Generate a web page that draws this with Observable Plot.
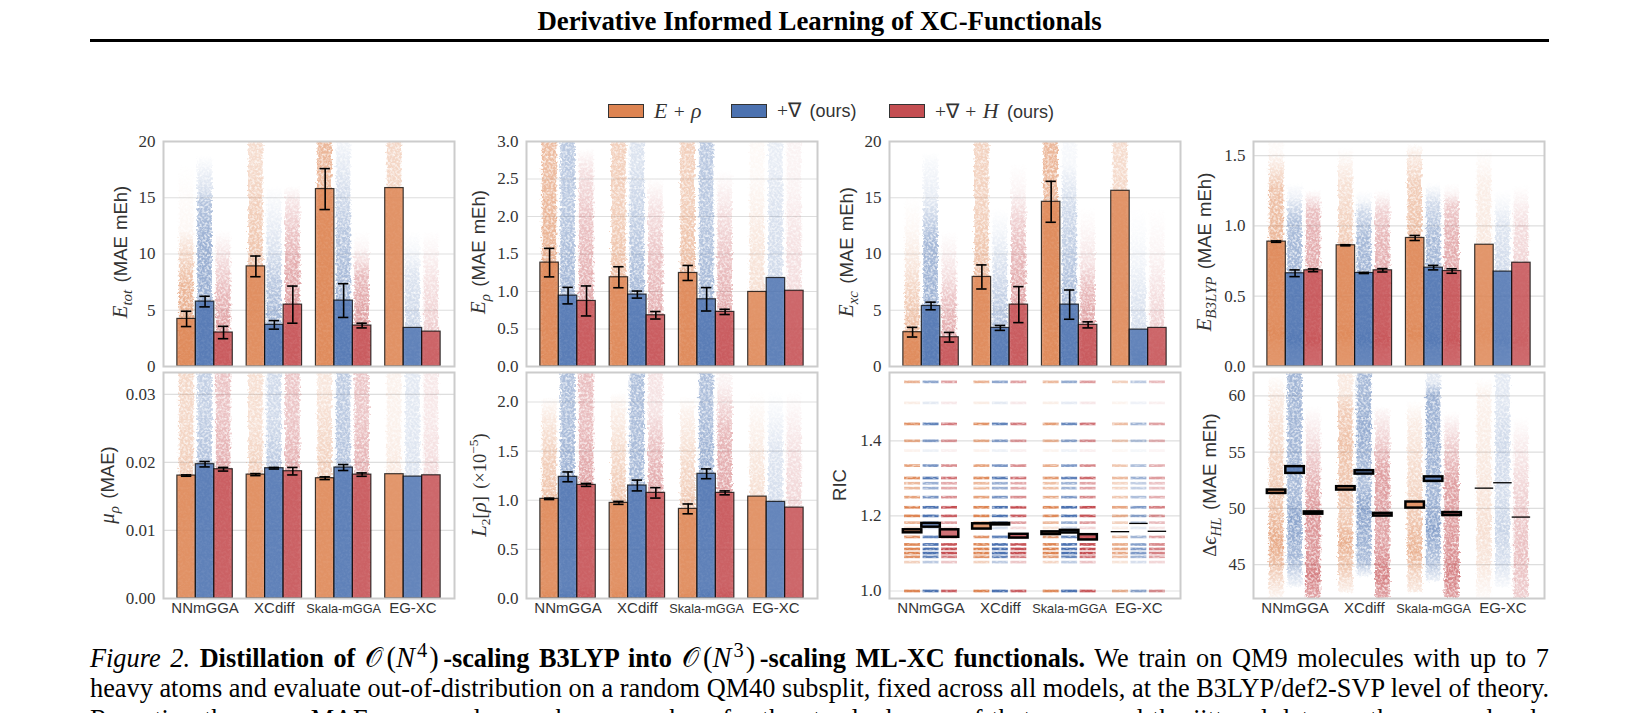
<!DOCTYPE html>
<html><head><meta charset="utf-8">
<script src="https://cdn.jsdelivr.net/npm/d3@7"></script>
<script src="https://cdn.jsdelivr.net/npm/@observablehq/plot@0.6"></script>
<style>
html,body{margin:0;padding:0;background:#fff;width:1639px;height:713px;overflow:hidden}
#page{position:relative;width:1639px;height:713px;overflow:hidden;font-family:"Liberation Serif",serif;color:#000}
#page svg{position:absolute;overflow:visible}
.abs{position:absolute;white-space:nowrap}
.ylab{position:absolute;white-space:nowrap;transform:translate(-50%,-50%) rotate(-90deg);font-family:"Liberation Sans",sans-serif;font-size:18.5px;color:#333;line-height:1;word-spacing:1px}
.ylab i,.leg i{font-family:"Liberation Serif",serif;font-size:1.12em}
.ylab .par{margin-left:.4em}
.ylab sub{font-size:.72em;line-height:0}
.ylab sup{font-size:.72em;line-height:0}
.ser{font-family:"Liberation Serif",serif}
.swatch{position:absolute;height:14px;width:36px;top:104px;box-sizing:border-box;border:1.2px solid #333}
.leg{position:absolute;top:100px;font-size:19.5px;line-height:22px;white-space:nowrap;color:#333;font-family:"Liberation Serif",serif;word-spacing:1.5px}
.leg .sans{font-family:"Liberation Sans",sans-serif;font-size:18px;margin-left:.12em}
.cap{position:absolute;left:90px;width:1459px;font-size:26.3px;line-height:30px;text-align:justify;text-align-last:justify;white-space:normal}
.cap sup{font-size:.72em;line-height:0;padding:0 .1em}
.cap .cal{font-family:"DejaVu Serif";font-size:1.02em;padding-right:.06em}
.cap .m{padding:0 .16em 0 .1em;font-size:1.08em}
</style></head>
<body><div id="page">
<svg width="0" height="0" style="position:absolute"><defs id="defs">
<filter id="speckle" x="-5%" y="-5%" width="110%" height="110%" color-interpolation-filters="sRGB">
 <feTurbulence type="fractalNoise" baseFrequency="0.42" numOctaves="2" seed="7" result="n"/>
 <feColorMatrix in="n" type="matrix" values="0 0 0 0 1  0 0 0 0 1  0 0 0 0 1  1.9 0 0 0 -.15" result="mask"/>
 <feDisplacementMap in="SourceGraphic" in2="n" scale="6" xChannelSelector="G" yChannelSelector="B" result="d"/>
 <feComposite in="d" in2="mask" operator="arithmetic" k1="1" result="s"/>
 <feGaussianBlur in="s" stdDeviation=".75"/>
</filter>
<filter id="speckleLine" x="-5%" y="-5%" width="110%" height="110%" color-interpolation-filters="sRGB">
 <feTurbulence type="fractalNoise" baseFrequency="0.3 0.9" numOctaves="1" seed="3" result="n"/>
 <feColorMatrix in="n" type="matrix" values="0 0 0 0 1  0 0 0 0 1  0 0 0 0 1  2 0 0 0 0" result="mask"/>
 <feComposite in="SourceGraphic" in2="mask" operator="arithmetic" k1="1" result="s"/>
 <feGaussianBlur in="s" stdDeviation=".4"/>
</filter>
</defs></svg>
</div>
<script>
const groups = ["NNmGGA", "XCdiff", "Skala-mGGA", "EG-XC"];
const series = ["E+rho", "+grad", "+grad+H"];
const seriesColors = ["#DD8452", "#4C72B0", "#C44E52"];

// means: one row per group, [orange, blue, red]; sem: half-width of the error bar (EG-XC has one seed)
const meanEtot = [[4.23, 5.77, 3.02], [8.9, 3.70, 5.50], [15.77, 5.86, 3.64], [15.86, 3.43, 3.1]];
const semEtot  = [[.68, .47, .55], [.92, .38, 1.65], [1.82, 1.5, .21], [0, 0, 0]];
const meanErho = [[1.385, .945, .874], [1.19, .959, .683], [1.247, .896, .728], [.994, 1.18, 1.01]];
const semErho  = [[.19, .11, .2], [.14, .047, .05], [.1, .156, .035], [0, 0, 0]];
const meanExc  = [[3.05, 5.38, 2.6], [7.96, 3.43, 5.5], [14.64, 5.5, 3.7], [15.62, 3.28, 3.43]];
const semExc   = [[.43, .34, .43], [1.07, .22, 1.6], [1.82, 1.3, .27], [0, 0, 0]];
const meanB3   = [[.888, .663, .684], [.862, .665, .684], [.914, .703, .679], [.866, .675, .738]];
const semB3    = [[.005, .024, .01], [.004, .004, .012], [.018, .016, .016], [0, 0, 0]];
const meanMu   = [[.01806, .01973, .01899], [.0182, .01914, .0187], [.01767, .01924, .0182], [.01826, .01791, .0181]];
const semMu    = [[.0001, .0004, .00027], [.00015, .00012, .00055], [.0002, .00044, .00025], [0, 0, 0]];
const meanL2   = [[1.014, 1.238, 1.156], [.973, 1.15, 1.075], [.912, 1.269, 1.075], [1.037, .983, .925]];
const semL2    = [[.007, .05, .015], [.015, .055, .053], [.05, .05, .02], [0, 0, 0]];
const meanRic  = [[1.159, 1.175, 1.153], [1.172, 1.178, 1.146], [1.154, 1.158, 1.143], [1.158, 1.18, 1.159]];
const semRic   = [[.004, .005, .01], [.007, .002, .005], [.0035, .0035, .007], [0, 0, 0]];
const meanHL   = [[51.48, 53.41, 49.59], [51.78, 53.2, 49.44], [50.3, 52.6, 49.5], [51.8, 52.28, 49.23]];
const semHL    = [[.15, .3, .1], [.15, .15, .12], [.27, .2, .13], [0, 0, 0]];

const cloudEtot = [
 [0,.5,4,.5,7,.45,9,.3,11,.15,12,.05,18],[0,.45,5,.45,11,.42,14.5,.33,15.5,.18,18.7],[0,.45,3,.42,6.5,.3,9,.17,10.5,.08,12],
 [0,.4,9,.38,14,.3,18,.22,20],[0,.45,4,.4,8,.28,10,.17,13,.08,16],[0,.45,5,.42,9,.35,12,.25,14.5,.12,16],
 [0,.5,15,.45,18,.45,21],[0,.45,6,.4,12,.3,16.5,.15,20,.05,21],[0,.45,4,.42,8,.3,9.5,.13,10.5,.04,12],
 [0,.3,15,.25,20],[0,.3,4,.22,8,.15,10,.05,12],[0,.3,4,.2,8,.12,10,.05,12]];
const cloudErho = [
 [0,.5,1,.5,2.5,.42,3.1],[0,.45,1,.4,2,.3,3.1],[0,.45,1,.35,2,.25,2.6,.13,2.9],
 [0,.5,1,.42,2,.3,3.1],[0,.45,1,.38,2,.25,2.7,.15,3.1],[0,.45,.7,.35,1.5,.25,2.1,.13,2.5],
 [0,.5,1.2,.42,2.2,.3,3.1],[0,.45,1,.38,2,.3,3.1],[0,.45,.8,.35,1.5,.25,2.1,.12,2.6],
 [0,.3,1,.2,1.7,.14,2.5,.04,3.1],[0,.3,1.2,.2,2,.16,2.7,.1,3.1],[0,.3,1,.15,1.7,.12,2.4,.05,3]];
const cloudExc = [
 [0,.5,3,.42,6,.3,9,.15,12,.05,15],[0,.45,5,.42,11,.38,15,.1,18,.04,19],[0,.45,2.6,.38,6,.25,8,.14,10.3,.05,12],
 [0,.45,8,.4,14,.28,20.5],[0,.45,3.4,.35,7,.22,10,.12,12,.05,14],[0,.45,5,.4,10,.3,13,.2,15.5,.05,18],
 [0,.5,14,.45,20.5],[0,.45,5,.38,10,.28,14,.2,18,.04,20],[0,.45,3.7,.4,7,.28,9,.13,12,.04,14],
 [0,.3,15,.25,18,.22,20.5],[0,.3,3.3,.18,6,.14,9,.06,12,.02,14],[0,.3,3.4,.2,6.5,.13,9.7,.05,14]];
const cloudB3 = [
 [0,.15,.15,.3,.22,.55,.33,.4,.9,.45,1.25,.38,1.4,.18,1.52,.03,1.6],[0,.15,.12,.3,.18,.55,.28,.42,.9,.38,1.05,.32,1.2,.08,1.3],[0,.15,.12,.3,.18,.55,.28,.42,.9,.35,1.1,.28,1.2,.08,1.25],
 [0,.15,.15,.3,.22,.55,.33,.4,.9,.32,1.3,.18,1.5,.03,1.55],[0,.15,.12,.3,.18,.55,.28,.42,.9,.38,1.1,.2,1.17,.05,1.25],[0,.15,.12,.3,.18,.55,.28,.42,.9,.32,1.1,.2,1.2,.05,1.25],
 [0,.15,.15,.3,.22,.55,.33,.4,.9,.4,1.3,.3,1.5,.12,1.58],[0,.15,.12,.3,.18,.55,.28,.42,.9,.38,1.15,.2,1.25,.05,1.3],[0,.15,.12,.3,.18,.55,.28,.42,.9,.35,1.15,.22,1.22,.05,1.3],
 [0,.08,.15,.2,.22,.35,.33,.25,.9,.14,1.3,.1,1.45,.03,1.55],[0,.08,.12,.2,.18,.35,.28,.25,.7,.2,1,.14,1.15,.04,1.25],[0,.08,.12,.2,.18,.35,.28,.25,.74,.18,1,.15,1.2,.04,1.28]];
const cloudMu = [
 [0,.3,.018,.32,.026,.24,.034],[0,.3,.019,.34,.027,.26,.034],[0,.3,.019,.36,.027,.26,.034],
 [0,.3,.018,.3,.025,.2,.034],[0,.3,.019,.3,.026,.2,.034],[0,.3,.019,.35,.026,.25,.034],
 [0,.3,.018,.3,.025,.22,.031,.15,.034],[0,.3,.019,.32,.03,.28,.034],[0,.3,.018,.34,.027,.25,.034],
 [0,.2,.018,.14,.026,.08,.034],[0,.2,.018,.15,.027,.12,.034],[0,.2,.018,.16,.026,.1,.034]];
const cloudL2 = [
 [0,.55,.12,.3,1,.38,1.5,.28,1.9,.1,2.05],[0,.55,.12,.3,1.2,.42,1.8,.35,2.31],[0,.55,.12,.3,1.15,.4,1.8,.28,2.31],
 [0,.55,.12,.3,1,.35,1.5,.22,1.95,.08,2.1],[0,.55,.12,.3,1.15,.38,1.8,.35,2.31],[0,.55,.12,.3,1.1,.38,1.6,.25,1.9,.12,2.31],
 [0,.55,.12,.3,.9,.35,1.4,.22,1.9,.08,2.05],[0,.55,.12,.3,1.3,.42,1.9,.35,2.31],[0,.55,.12,.3,1.1,.38,1.7,.3,2.2,.05,2.31],
 [0,.3,.12,.18,1.04,.2,1.5,.13,1.95,.03,2.1],[0,.3,.12,.18,1,.18,1.5,.14,1.85,.05,2.1],[0,.3,.12,.18,.93,.18,1.5,.13,1.95,.03,2.1]];
const cloudHL = [
 [42,.05,45,.38,47,.55,49.5,.38,59.9,.12,61.8],[43,.06,45.5,.38,49,.5,51,.38,59,.4,62.1],[42,.4,44,.55,46,.45,49,.45,51,.4,56.3,.12,59],
 [42.5,.08,44.5,.32,47,.5,49,.32,56,.38,59,.3,60.2,.14,62.1],[43.9,.05,45.3,.36,50,.5,52,.35,57,.45,60,.38,62.1],[42,.4,44,.55,47,.4,50,.4,53,.42,56.4,.18,58.5,.05,59],
 [42.5,.12,44.5,.3,46,.48,48,.4,50,.3,57.5,.12,59.5],[43.5,.08,45,.3,48,.5,51,.4,60,.42,61.2,.12,62.1],[42,.42,44,.55,47,.45,50,.4,52,.42,56.5,.15,58.5],
 [42,.03,45,.15,48,.2,52,.15,60,.08,61.5],[43,.03,45,.16,48,.24,51,.18,56,.2,60,.12,62.1],[42,.22,46,.28,50,.22,56,.07,58]];

// RIC takes discrete values: level, how strongly it shows, and how strongly each cloud shows
const ricLevels   = [1.557,1.501,1.445,1.40,1.374,1.334,1.301,1.287,1.274,1.25,1.223,1.2,1.182,1.168,1.144,1.124,1.112,1.101,1.091,1.077,1.0];
const ricStrength = [.5,.12,.7,.55,.08,.6,.75,.45,.45,.6,.95,.85,.5,.2,.7,.9,.95,.95,.7,.3,.85];
const ricCloud    = [[1,1,.85],[1,1,.85],[.9,.95,.9],[.6,.6,.6]];

const panels = [
 {id:"a", left:163, top:141, h:225, domain:[0,20],     ticks:[0,5,10,15,20],      fmt:"d",   mean:meanEtot, sem:semEtot, cloud:cloudEtot},
 {id:"b", left:526, top:141, h:225, domain:[0,3],      ticks:[0,.5,1,1.5,2,2.5,3],fmt:".1f", mean:meanErho, sem:semErho, cloud:cloudErho},
 {id:"c", left:889, top:141, h:225, domain:[0,20],     ticks:[0,5,10,15,20],      fmt:"d",   mean:meanExc,  sem:semExc,  cloud:cloudExc},
 {id:"d", left:1253,top:141, h:225, domain:[0,1.6],    ticks:[0,.5,1,1.5],        fmt:".1f", mean:meanB3,   sem:semB3,   cloud:cloudB3},
 {id:"e", left:163, top:372, h:226, domain:[0,.0332],  ticks:[0,.01,.02,.03],     fmt:".2f", mean:meanMu,   sem:semMu,   cloud:cloudMu, names:true},
 {id:"f", left:526, top:372, h:226, domain:[0,2.3],    ticks:[0,.5,1,1.5,2],      fmt:".1f", mean:meanL2,   sem:semL2,   cloud:cloudL2, names:true},
 {id:"g", left:889, top:372, h:226, domain:[.98,1.582],ticks:[1,1.2,1.4],         fmt:".1f", mean:meanRic,  sem:semRic,  names:true, boxes:true},
 {id:"h", left:1253,top:372, h:226, domain:[42,62.07], ticks:[45,50,55,60],       fmt:"d",   mean:meanHL,   sem:semHL,   cloud:cloudHL, names:true, boxes:true}
];

const barW = .8 / 3;
const mL = 70, mR = 6, mT = 6, mB = 24;
const page = document.getElementById("page");
const defs = d3.select("#defs");

function rows(p) {
  const out = [];
  p.mean.forEach((row, g) => row.forEach((m, s) => {
    const c = g + (s - 1) * barW;
    out.push({g, s, c, x1: c - barW / 2, x2: c + barW / 2, m, e: p.sem[g][s]});
  }));
  return out;
}
// one rect per cloud, painted with a vertical gradient holding that cloud's density profile
function cloudRects(p) {
  return p.cloud.map((stops, k) => {
    const g = Math.floor(k / 3), s = k % 3, c = g + (s - 1) * barW;
    const lo = stops[0], hi = stops[stops.length - 1], id = `cloud-${p.id}-${k}`;
    const grad = defs.append("linearGradient").attr("id", id).attr("x1", 0).attr("y1", 1).attr("x2", 0).attr("y2", 0);
    const stop = (v, a) => grad.append("stop").attr("offset", (v - lo) / (hi - lo))
      .attr("stop-color", seriesColors[s]).attr("stop-opacity", Math.min(1, a * 1.3));
    for (let i = 0; i + 1 < stops.length; i += 2) stop(stops[i], stops[i + 1]);
    stop(hi, hi >= p.domain[1] ? stops[stops.length - 2] : 0);
    return {x1: c - .105, x2: c + .105, y1: lo, y2: hi, fill: `url(#${id})`};
  });
}
function ricBands() {
  const out = [];
  ricCloud.forEach((row, g) => row.forEach((f, s) => {
    const c = g + (s - 1) * barW;
    ricLevels.forEach((v, i) => out.push({s, x1: c - .115, x2: c + .115, v, a: Math.min(1, ricStrength[i] * f * 1.25)}));
  }));
  return out;
}

panels.forEach(p => {
  const data = rows(p);
  const withErr = data.filter(d => d.e > 0);
  const marks = [
    Plot.gridY(p.ticks, {stroke: "#ccc", strokeOpacity: .65, strokeWidth: 1.2}),
    Plot.axisY(p.ticks, {tickSize: 0, tickPadding: 8, tickFormat: d3.format(p.fmt), label: null, fill: "#333"})
  ];
  if (p.cloud) marks.push(Plot.rect(cloudRects(p), {
    x1: "x1", x2: "x2", y1: "y1", y2: "y2", fill: "fill", clip: true, imageFilter: "url(#speckle)"
  }));
  else marks.push(Plot.ruleY(ricBands(), {
    x1: "x1", x2: "x2", y: "v", stroke: d => seriesColors[d.s], strokeOpacity: "a", strokeWidth: 2.7, clip: true, imageFilter: "url(#speckleLine)"
  }));
  if (!p.boxes) {
    marks.push(Plot.rect(data, {
      x1: "x1", x2: "x2", y1: p.domain[0], y2: "m",
      fill: d => seriesColors[d.s], fillOpacity: .82, stroke: "#000", strokeOpacity: .75, strokeWidth: 1.2
    }));
    marks.push(Plot.ruleX(withErr, {x: "c", y1: d => d.m - d.e, y2: d => d.m + d.e, stroke: "#000", strokeWidth: 1.6}));
    for (const sign of [-1, 1])
      marks.push(Plot.ruleY(withErr, {x1: d => d.c - .075, x2: d => d.c + .075, y: d => d.m + sign * d.e, stroke: "#000", strokeWidth: 1.6}));
  } else {
    marks.push(Plot.rect(withErr, {
      x1: "x1", x2: "x2", y1: d => d.m - d.e, y2: d => d.m + d.e,
      fill: d => seriesColors[d.s], fillOpacity: .8, stroke: "#000", strokeWidth: 2.5
    }));
    marks.push(Plot.ruleY(data.filter(d => d.e === 0), {x1: "x1", x2: "x2", y: "m", stroke: "#000", strokeWidth: 1.3}));
  }
  marks.push(Plot.frame({stroke: "#ccc", strokeWidth: 2}));
  if (p.names) marks.push(Plot.text(groups, {
    x: (d, i) => i, frameAnchor: "bottom", dy: 14, text: d => d,
    fontSize: d => d === "Skala-mGGA" ? 12.7 : 15, fill: "#333", fontFamily: "Liberation Sans"
  }));
  const svg = Plot.plot({
    width: 291 + mL + mR, height: p.h + mT + mB,
    marginLeft: mL, marginRight: mR, marginTop: mT, marginBottom: mB,
    x: {type: "linear", domain: [-.6, 3.6], axis: null},
    y: {domain: p.domain, axis: null},
    color: {type: "identity"},
    style: {background: "transparent", fontFamily: "Liberation Serif", fontSize: "17px", overflow: "visible"},
    marks
  });
  svg.style.left = (p.left - mL) + "px";
  svg.style.top = (p.top - mT) + "px";
  svg.style.maxWidth = "none";
  page.appendChild(svg);
});

function add(cls, css, html) {
  const el = document.createElement("div");
  el.className = cls; el.style.cssText = css; el.innerHTML = html;
  page.appendChild(el);
  return el;
}
// header
add("abs", "left:0;width:1639px;top:5px;text-align:center;font-weight:bold;font-size:26.8px;line-height:32px", "Derivative Informed Learning of XC-Functionals");
add("abs", "left:90px;width:1459px;top:39px;height:3px;background:#000", "");
// legend
[[608, 654, '<i>E</i> + <i>ρ</i>'],
 [731, 777, '+∇ <span class="sans">(ours)</span>'],
 [889, 935, '+∇ + <i>H</i> <span class="sans">(ours)</span>']].forEach(([sx, tx, html], i) => {
  add("swatch", `left:${sx}px;background:${seriesColors[i]}`, "");
  add("leg", `left:${tx}px`, html);
});
// y labels
const par = s => `<span class="par">${s}</span>`;
[[120, 252, '<i>E<sub>tot</sub></i>' + par('(MAE mEh)')],
 [478, 252, '<i>E<sub>ρ</sub></i>' + par('(MAE mEh)')],
 [846, 252, '<i>E<sub>xc</sub></i>' + par('(MAE mEh)')],
 [1204, 252, '<i>E<sub>B3LYP</sub></i>' + par('(MAE mEh)')],
 [107, 485, '<i>μ<sub>ρ</sub></i>' + par('(MAE)')],
 [479, 485, '<i>L</i><span class="ser"><sub>2</sub>[<i>ρ</i>]' + par('(×10<sup>−5</sup>)') + '</span>'],
 [840, 485, 'RIC'],
 [1209, 485, '<span class="ser">Δ</span><i>ϵ<sub>HL</sub></i>' + par('(MAE mEh)')]].forEach(([x, y, html]) => {
  add("ylab", `left:${x}px;top:${y}px`, html);
});
// caption
add("cap", "top:643px", '<i>Figure 2.</i> <b>Distillation of</b> <span class="cal">𝒪</span><span class="m">(<i>N</i><sup>4</sup>)</span><b>-scaling B3LYP into</b> <span class="cal">𝒪</span><span class="m">(<i>N</i><sup>3</sup>)</span><b>-scaling ML-XC functionals.</b> We train on QM9 molecules with up to 7');
add("cap", "top:674px", 'heavy atoms and evaluate out-of-distribution on a random QM40 subsplit, fixed across all models, at the B3LYP/def2-SVP level of theory.');
add("cap", "top:705px", 'Reporting the mean MAE over seeds, we show error bars for the standard error of that mean and the jittered data are the per-molecule errors.');
</script>
</body></html>
